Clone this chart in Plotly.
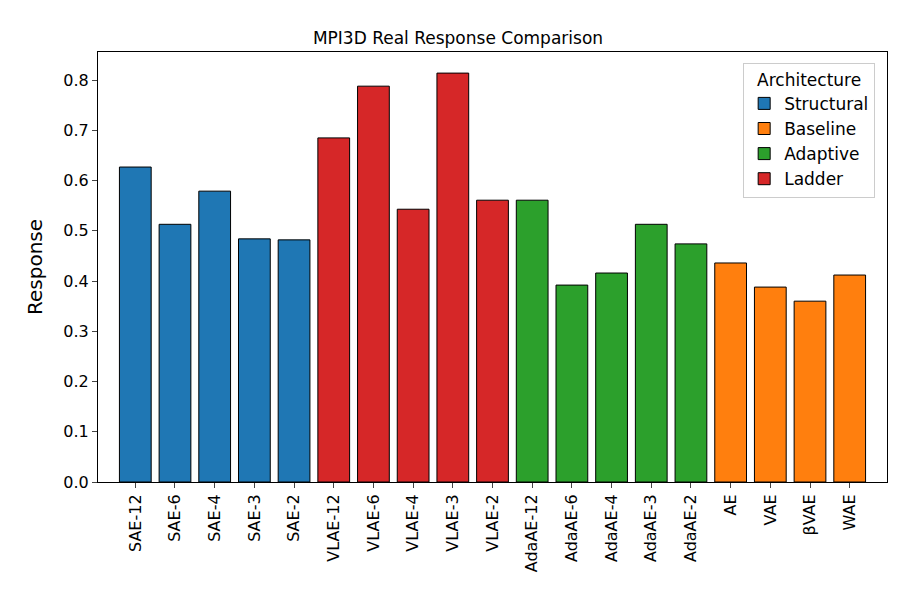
import plotly.graph_objects as go

models = ["SAE-12", "SAE-6", "SAE-4", "SAE-3", "SAE-2",
          "VLAE-12", "VLAE-6", "VLAE-4", "VLAE-3", "VLAE-2",
          "AdaAE-12", "AdaAE-6", "AdaAE-4", "AdaAE-3", "AdaAE-2",
          "AE", "VAE", "βVAE", "WAE"]
response = [0.627, 0.513, 0.579, 0.484, 0.482,
            0.685, 0.788, 0.543, 0.814, 0.561,
            0.561, 0.392, 0.416, 0.513, 0.474,
            0.436, 0.388, 0.360, 0.412]
arch = (["Structural"] * 5 + ["Ladder"] * 5 + ["Adaptive"] * 5 + ["Baseline"] * 4)

legend_order = ["Structural", "Baseline", "Adaptive", "Ladder"]
colors = {"Structural": "#1f77b4", "Baseline": "#ff7f0e",
          "Adaptive": "#2ca02c", "Ladder": "#d62728"}

fig = go.Figure()
for i, a in enumerate(legend_order):
    xs = [m for m, g in zip(models, arch) if g == a]
    ys = [v for v, g in zip(response, arch) if g == a]
    fig.add_trace(go.Bar(x=xs, y=ys, name=a, width=0.8, legendrank=i + 1,
                         marker=dict(color=colors[a], line=dict(color="black", width=1))))

fig.update_layout(
    width=900, height=600, barmode="overlay",
    paper_bgcolor="white", plot_bgcolor="white",
    font=dict(family="DejaVu Sans", size=17, color="black"),
    title=dict(text="MPI3D Real Response Comparison", x=0.5, y=0.95, yref="container",
               xanchor="center", yanchor="middle", font=dict(size=17)),
    margin=dict(l=90, r=21, t=44, b=126, autoexpand=False),
    legend=dict(title=dict(text="Architecture", side="top center", font=dict(size=17)),
                x=0.985, y=0.975, xanchor="right", yanchor="top",
                bordercolor="#cccccc", borderwidth=1, font=dict(size=17)),
    showlegend=True,
)
fig.update_xaxes(categoryorder="array", categoryarray=models, range=[-0.94, 18.94],
                 tickangle=-90, showline=True, linecolor="black", mirror=True,
                 ticks="outside", tickfont=dict(size=16), automargin=False)
fig.update_yaxes(range=[0, 0.856], dtick=0.1, tickformat=".1f",
                 title=dict(text="Response", font=dict(size=20)),
                 showline=True, linecolor="black", mirror=True, automargin=False,
                 ticks="outside", showgrid=False, zeroline=False, tickfont=dict(size=16))

fig.write_html("out.html")
